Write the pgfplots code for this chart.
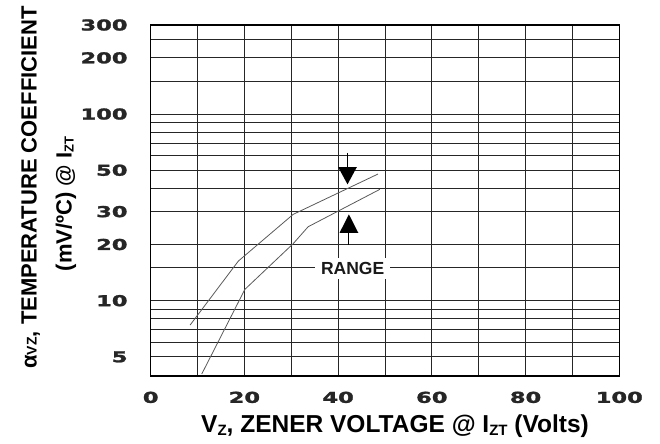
\documentclass[border=0pt]{standalone}
\usepackage{fontspec}
\setmainfont{Liberation Sans}
\newfontfamily\tickfont{DejaVu Sans}[FakeBold=1.6]
\usepackage{graphicx}
\usepackage{pgfplots}
\pgfplotsset{compat=1.18}
\newcommand\tl[1]{\scalebox{1.5}[1]{#1}}
\begin{document}
\begin{tikzpicture}
\useasboundingbox (0,0) rectangle (660bp,444bp);
\begin{axis}[
  at={(150.7bp,68bp)}, anchor=south west,
  scale only axis, width=468.6bp, height=351bp,
  xmin=0, xmax=100, ymode=log, ymin=3.95, ymax=300,
  xtick={0,20,40,60,80,100},
  xticklabels={\tl{0},\tl{20},\tl{40},\tl{60},\tl{80},\tl{100}},
  minor xtick={10,30,50,70,90},
  ytick={5,10,20,30,50,100,200,300},
  yticklabels={\tl{5},\tl{10},\tl{20},\tl{30},\tl{50},\tl{100},\tl{200},\tl{300}},
  minor ytick={6,7,8,9,15,40,60,70,80,90,150,250},
  grid=both,
  major grid style={black!85, line width=0.9bp},
  minor grid style={black!85, line width=0.9bp},
  major tick length=0pt, minor tick length=0pt,
  axis line style={black, line width=1.4bp},
  ticklabel style={font=\tickfont\bfseries\fontsize{15bp}{15bp}\selectfont, color=black!85, inner sep=0pt},
  xticklabel style={anchor=north, yshift=-15.5bp},
  yticklabel style={anchor=east, xshift=-23bp},
]
\addplot[black!65, line width=0.8bp] coordinates {(8.4,7.4) (18.7,16.3) (30.4,29) (48.5,47.7)};
\addplot[black!65, line width=0.8bp] coordinates {(10.9,4.05) (20.1,11.5) (30.4,20.2) (33.6,24.9) (48.9,39.5)};
\node[fill=white, inner xsep=6bp, inner ysep=4bp, font=\bfseries\fontsize{17.5bp}{17.5bp}\selectfont, text=black!90] at (axis cs:43.1,14.9) {RANGE};
\draw[black, line width=0.9bp] (axis cs:42,62) -- (axis cs:42,52);
\fill[black] (axis cs:40,52) -- (axis cs:44,52) -- (axis cs:42,42) -- cycle;
\draw[black, line width=0.9bp] (axis cs:42.3,20) -- (axis cs:42.3,23.1);
\fill[black] (axis cs:40.3,23.1) -- (axis cs:44.3,23.1) -- (axis cs:42.3,29) -- cycle;
\end{axis}
\node[rotate=90, anchor=base, font=\bfseries\fontsize{22bp}{26bp}\selectfont] at (36.5bp,256.5bp) {α{\fontsize{14bp}{14bp}\selectfont VZ}, TEMPERATURE COEFFICIENT};
\node[rotate=90, anchor=base, font=\bfseries\fontsize{22bp}{26bp}\selectfont] at (71.5bp,240bp) {(mV/ºC) @ I\kern-0.5bp\raisebox{-2bp}{\fontsize{13bp}{13bp}\selectfont ZT}};
\node[anchor=base, font=\bfseries\fontsize{24.5bp}{28bp}\selectfont] at (395bp,11.3bp) {V\raisebox{-3bp}{\fontsize{15bp}{15bp}\selectfont Z}, ZENER VOLTAGE @ I\raisebox{-3bp}{\fontsize{15bp}{15bp}\selectfont ZT} (Volts)};
\end{tikzpicture}
\end{document}
